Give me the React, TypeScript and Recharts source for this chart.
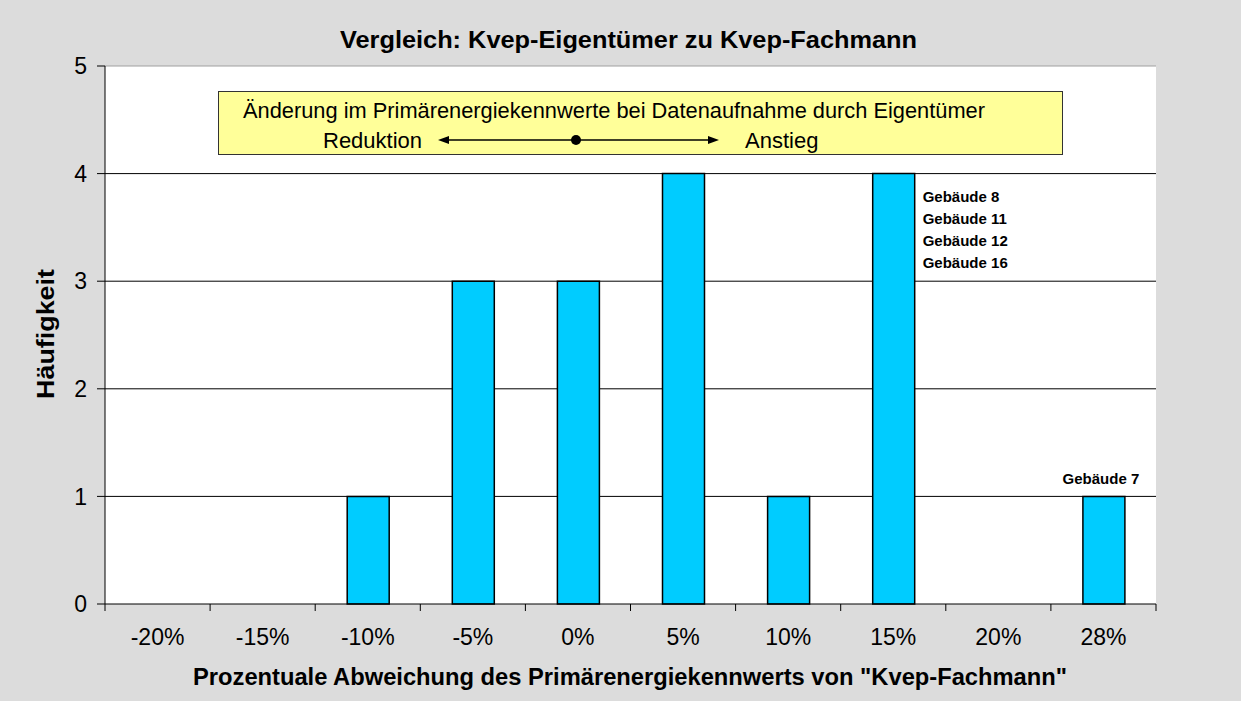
import { BarChart, Bar, XAxis, YAxis, CartesianGrid, ReferenceLine, LabelList } from "recharts";

const categories = ["-20%", "-15%", "-10%", "-5%", "0%", "5%", "10%", "15%", "20%", "28%"];
const counts = [0, 0, 1, 3, 3, 4, 1, 4, 0, 1];
const buildingNotes: string[][] = [[], [], [], [], [], [], [], ["Gebäude 8", "Gebäude 11", "Gebäude 12", "Gebäude 16"], [], ["Gebäude 7"]];
const yTicks = [0, 1, 2, 3, 4, 5];

const title = "Vergleich: Kvep-Eigentümer zu Kvep-Fachmann";
const xTitle = 'Prozentuale Abweichung des Primärenergiekennwerts von "Kvep-Fachmann"';
const yTitle = "Häufigkeit";
const boxLine = "Änderung im Primärenergiekennwerte bei Datenaufnahme durch Eigentümer";
const leftWord = "Reduktion";
const rightWord = "Anstieg";

const data = categories.map((c, i) => ({ name: c, count: counts[i], notes: buildingNotes[i] }));

const W = 1241;
const H = 701;
const PLOT_LEFT = 105;
const PLOT_RIGHT = 1156;
const PLOT_BOTTOM = 604;
const BAND = (PLOT_RIGHT - PLOT_LEFT) / categories.length;
const FONT = "'Liberation Sans', Arial, sans-serif";

// Excel style: tick marks sit between categories, labels in the middle
const CategoryTick = ({ x, payload, index }: any) => {
  const left = x - BAND / 2;
  return (
    <g>
      <line x1={left} x2={left} y1={PLOT_BOTTOM} y2={PLOT_BOTTOM + 7} stroke="#000" />
      {index === categories.length - 1 && (
        <line x1={left + BAND} x2={left + BAND} y1={PLOT_BOTTOM} y2={PLOT_BOTTOM + 7} stroke="#000" />
      )}
      <text x={x} y={PLOT_BOTTOM + 41} textAnchor="middle" fontSize={23} fontFamily={FONT} fill="#000">
        {payload.value}
      </text>
    </g>
  );
};

const renderNotes = (props: any) => {
  const { x, y, width, value } = props;
  const notes: string[] = Array.isArray(value) ? value : [];
  if (!notes.length) return null;
  if (notes.length === 1) {
    return (
      <text x={x + width / 2 - 3} y={y - 12} textAnchor="middle" fontSize={15} fontWeight="bold" fontFamily={FONT} fill="#000">
        {notes[0]}
      </text>
    );
  }
  return (
    <g>
      {notes.map((n, i) => (
        <text key={n} x={x + width + 8} y={y + 28 + i * 22} fontSize={15} fontWeight="bold" fontFamily={FONT} fill="#000">
          {n}
        </text>
      ))}
    </g>
  );
};

export default function App() {
  return (
    <div style={{ position: "absolute", left: 0, top: 0, width: W, height: H, background: "#dcdcdc", fontFamily: FONT }}>
      <BarChart width={W} height={H} data={data} margin={{ top: 66, right: 85, bottom: 17, left: 25 }}>
        <CartesianGrid vertical={false} stroke="#000" fill="#fff" horizontalValues={[1, 2, 3, 4]} />
        <ReferenceLine y={5} stroke="#a0a0a0" />
        <XAxis
          dataKey="name"
          height={80}
          stroke="#000"
          tickLine={false}
          tick={<CategoryTick />}
          interval={0}
        />
        <YAxis
          width={80}
          domain={[0, 5]}
          ticks={yTicks}
          stroke="#000"
          tickSize={8}
          tickMargin={10}
          tick={{ fontSize: 23, fill: "#000", fontFamily: FONT }}
        />
        <Bar dataKey="count" fill="#00ccff" stroke="#000" strokeWidth={1.5} barSize={42} isAnimationActive={false}>
          <LabelList dataKey="notes" content={renderNotes} />
        </Bar>
      </BarChart>
      <svg width={W} height={H} style={{ position: "absolute", left: 0, top: 0, pointerEvents: "none" }}>
        <text x={340} y={48} fontSize={23} fontWeight="bold" fontFamily={FONT} textLength={577} lengthAdjust="spacingAndGlyphs">
          {title}
        </text>
        <text x={193} y={685} fontSize={23} fontWeight="bold" fontFamily={FONT} textLength={874} lengthAdjust="spacingAndGlyphs">
          {xTitle}
        </text>
        <text x={54} y={399} fontSize={23} fontWeight="bold" fontFamily={FONT} transform="rotate(-90 54 399)" textLength={130} lengthAdjust="spacingAndGlyphs">
          {yTitle}
        </text>
        <rect x={218.5} y={91.5} width={844} height={63} fill="#ffff99" stroke="#333" />
        <text x={243} y={118} fontSize={22} fontFamily={FONT} textLength={742} lengthAdjust="spacingAndGlyphs">
          {boxLine}
        </text>
        <text x={323} y={148} fontSize={22} fontFamily={FONT}>
          {leftWord}
        </text>
        <text x={745} y={148} fontSize={22} fontFamily={FONT}>
          {rightWord}
        </text>
        <line x1={446} x2={711} y1={140} y2={140} stroke="#000" strokeWidth={1.5} />
        <polygon points="438,140 449,136 449,144" fill="#000" />
        <polygon points="719,140 708,136 708,144" fill="#000" />
        <circle cx={576} cy={140} r={5} fill="#000" />
      </svg>
    </div>
  );
}
